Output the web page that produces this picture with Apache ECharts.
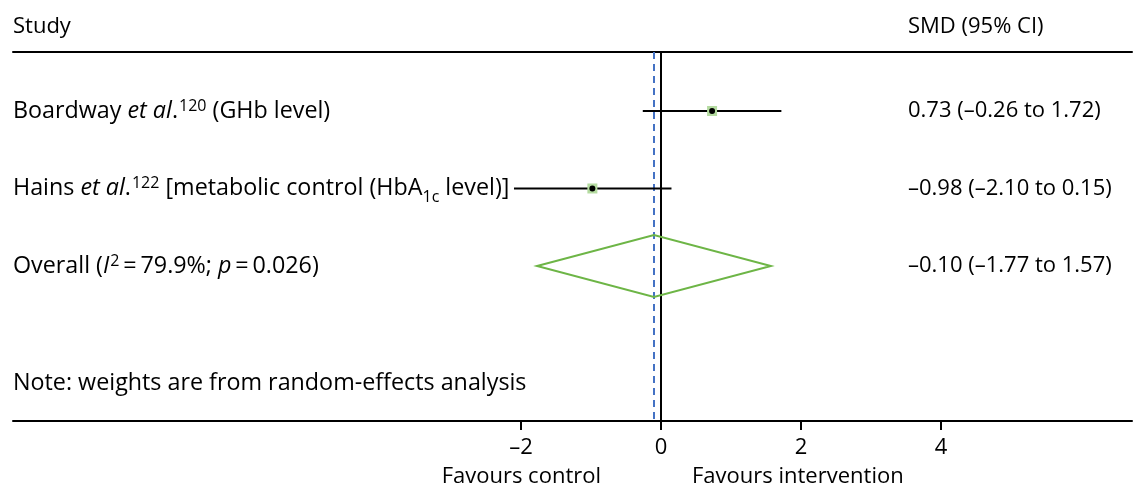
<!DOCTYPE html>
<html>
<head>
<meta charset="utf-8">
<script src="https://cdn.jsdelivr.net/npm/echarts@6/dist/echarts.min.js"></script>
<style>
  html, body { margin: 0; padding: 0; background: #fff; }
  #chart { width: 1133px; height: 491px; }
</style>
</head>
<body>
<div id="chart"></div>
<script>
// forest plot data
var studyLabels = [
  'Boardway {i|et al}.{sup|120} (GHb level)',
  'Hains {i|et al}.{sup|122} [metabolic control (HbA{sub|1c} level)]',
  'Overall ({i|I}{sup|2}\u2009=\u200979.9%; {i|p}\u2009=\u20090.026)'
]
var estimates = [0.73, -0.98, -0.10]
var lowerCI = [-0.26, -2.10, -1.77]
var upperCI = [1.72, 0.15, 1.57]
var ciLabels = ['0.73 (\u20130.26 to 1.72)', '\u20130.98 (\u20132.10 to 0.15)', '\u20130.10 (\u20131.77 to 1.57)']
var rows = [1, 2, 3]
var noteRow = 4.51
var noteText = 'Note: weights are from random-effects analysis'
var xTicks = [-2, 0, 2, 4]
var xTickLabels = ['\u20132', '0', '2', '4']
var overallRef = -0.10

var FONT = 'Open Sans'
var FS = 22
var FS_LEFT = 23.3
var richStyles = {
  i: { fontFamily: FONT, fontSize: FS_LEFT, fontStyle: 'italic', color: '#000', lineHeight: 28 },
  sup: { fontFamily: FONT, fontSize: 16, color: '#000', verticalAlign: 'top', lineHeight: 16, padding: [1, 0, 0, 1] },
  sub: { fontFamily: FONT, fontSize: 16, color: '#000', verticalAlign: 'bottom', lineHeight: 16, padding: [0, 0, -3, 0] }
}

var chart = echarts.init(document.getElementById('chart'))

var studyData = []
for (var i = 0; i < 2; i++) {
  studyData.push([estimates[i], lowerCI[i], upperCI[i], rows[i]])
}
var overallData = [[estimates[2], lowerCI[2], upperCI[2], rows[2]]]
var textData = []
for (var j = 0; j < rows.length; j++) {
  textData.push([rows[j], studyLabels[j], ciLabels[j]])
}
textData.push([noteRow, noteText, ''])

var xMin = -9.257
var xMax = 6.729

var option = {
  animation: false,
  grid: { left: 13, right: 1, top: 52, bottom: 70 },
  xAxis: [{
    type: 'value',
    min: xMin,
    max: xMax,
    axisLine: { lineStyle: { color: '#000', width: 2 } },
    axisTick: { show: true, customValues: xTicks, length: 9, lineStyle: { color: '#000', width: 2 } },
    axisLabel: {
      customValues: xTicks,
      formatter: function (v) { return xTickLabels[xTicks.indexOf(v)] },
      color: '#000', fontFamily: FONT, fontSize: FS, margin: 16
    },
    splitLine: { show: false }
  }, {
    type: 'value',
    position: 'top',
    min: xMin,
    max: xMax,
    axisLine: { show: true, lineStyle: { color: '#000', width: 2 } },
    axisTick: { show: false },
    axisLabel: { show: false },
    splitLine: { show: false }
  }],
  yAxis: {
    type: 'value',
    inverse: true,
    min: 0.239,
    max: 5.0,
    show: false
  },
  graphic: [
    { type: 'text', x: 13, y: 27, style: { text: 'Study', fontFamily: FONT, fontSize: FS, fill: '#000', verticalAlign: 'middle' } },
    { type: 'text', x: 908, y: 27, style: { text: 'SMD (95% CI)', fontFamily: FONT, fontSize: FS, fill: '#000', verticalAlign: 'middle' } },
    { type: 'text', x: 601, y: 477, style: { text: 'Favours control', fontFamily: FONT, fontSize: FS, fill: '#000', align: 'right', verticalAlign: 'middle' } },
    { type: 'text', x: 692, y: 477, style: { text: 'Favours intervention', fontFamily: FONT, fontSize: FS, fill: '#000', align: 'left', verticalAlign: 'middle' } }
  ],
  series: [
    {
      // reference lines
      type: 'line',
      data: [],
      markLine: {
        silent: true,
        symbol: 'none',
        label: { show: false },
        data: [
          { xAxis: overallRef, lineStyle: { color: '#4472c4', width: 2, type: [7, 5] } },
          { xAxis: 0, lineStyle: { color: '#000', width: 2, type: 'solid' } }
        ]
      }
    },
    {
      type: 'custom',
      data: studyData,
      z: 5,
      renderItem: function (params, api) {
        var p = api.coord([api.value(0), api.value(3)])
        var l = api.coord([api.value(1), api.value(3)])
        var h = api.coord([api.value(2), api.value(3)])
        return {
          type: 'group',
          children: [
            { type: 'line', shape: { x1: l[0], y1: l[1], x2: h[0], y2: h[1] }, style: { stroke: '#000', lineWidth: 2 } },
            { type: 'rect', shape: { x: p[0] - 5, y: p[1] - 5, width: 10, height: 10 }, style: { fill: '#b4dba0' } },
            { type: 'circle', shape: { cx: p[0], cy: p[1], r: 3 }, style: { fill: '#000' } }
          ]
        }
      }
    },
    {
      type: 'custom',
      data: overallData,
      z: 5,
      renderItem: function (params, api) {
        var p = api.coord([api.value(0), api.value(3)])
        var l = api.coord([api.value(1), api.value(3)])
        var h = api.coord([api.value(2), api.value(3)])
        return {
          type: 'polygon',
          shape: { points: [[l[0], l[1]], [p[0], p[1] - 31], [h[0], h[1]], [p[0], p[1] + 31]] },
          style: { fill: 'none', stroke: '#6db546', lineWidth: 2 }
        }
      }
    },
    {
      type: 'custom',
      data: textData,
      renderItem: function (params, api) {
        var y = api.coord([0, api.value(0)])[1]
        var d = textData[params.dataIndex]
        return {
          type: 'group',
          children: [
            { type: 'text', x: 13, y: y, style: { text: d[1], rich: richStyles, fontFamily: FONT, fontSize: FS_LEFT, fill: '#000', lineHeight: 28, verticalAlign: 'middle', align: 'left' } },
            { type: 'text', x: 908, y: y, style: { text: d[2], fontFamily: FONT, fontSize: FS, fill: '#000', verticalAlign: 'middle', align: 'left' } }
          ]
        }
      }
    }
  ]
}
chart.setOption(option)
</script>
</body>
</html>
